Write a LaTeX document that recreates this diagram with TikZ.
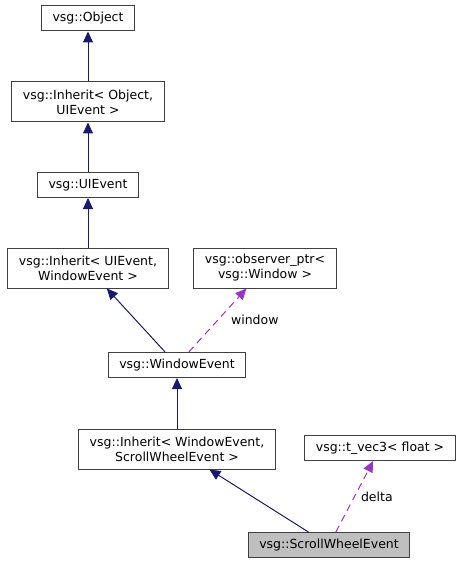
\documentclass[tikz,border=0pt]{standalone}
\usepackage{fontspec}
\setmainfont{DejaVu Sans}
\usetikzlibrary{arrows.meta}
\definecolor{edgeblue}{HTML}{191970}
\definecolor{edgepurple}{HTML}{9A32CD}
\definecolor{boxgray}{HTML}{BFBFBF}
\definecolor{boxline}{HTML}{404040}

\begin{document}
\begin{tikzpicture}[x=1pt, y=-1pt,
	cls/.style={draw=boxline, line width=1pt, fill=white, align=center, inner xsep=11pt, inner ysep=2pt, minimum height=25pt, font=\fontsize{12.5}{15}\selectfont},
	tmpl/.style={cls, minimum height=40pt},
	base/.style={draw=edgeblue, line width=1pt, -{Triangle[length=11pt, width=10pt]}},
	member/.style={draw=edgepurple, line width=1pt, dash pattern=on 7pt off 5pt, -{Triangle[length=11pt, width=10pt]}},
	lbl/.style={font=\fontsize{12.5}{15}\selectfont, inner sep=0pt}]
			%%%%% START %%%%%
			
			\useasboundingbox (0, 0) rectangle (463, 564);
			
			\node[cls] (object) at (88, 18.5) {vsg::Object};
			\node[tmpl] (inhobject) at (88, 102) {vsg::Inherit< Object,\\UIEvent >};
			\node[cls] (uievent) at (88, 185) {vsg::UIEvent};
			\node[tmpl] (inhuievent) at (88, 268) {vsg::Inherit< UIEvent,\\WindowEvent >};
			\node[tmpl] (observer) at (265, 268) {vsg::observer\_ptr<\\vsg::Window >};
			\node[cls] (windowevent) at (177, 365) {vsg::WindowEvent};
			\node[tmpl] (inhwindowevent) at (177, 449) {vsg::Inherit< WindowEvent,\\ScrollWheelEvent >};
			\node[cls] (vec) at (380, 448) {vsg::t\_vec3< float >};
			\node[cls, fill=boxgray] (scroll) at (329, 545) {vsg::ScrollWheelEvent};
			
			\draw[base] (inhobject) -- (object);
			\draw[base] (uievent) -- (inhobject);
			\draw[base] (inhuievent) -- (uievent);
			\draw[base] (windowevent) -- (inhuievent);
			\draw[member] (windowevent) -- node[lbl, midway, right, xshift=13pt] {window} (observer);
			\draw[base] (inhwindowevent) -- (windowevent);
			\draw[base] (scroll) -- (inhwindowevent);
			\draw[member] (scroll) -- node[lbl, midway, right, xshift=6pt] {delta} (vec);
			
			%%%%% END %%%%%
\end{tikzpicture}
\end{document}
